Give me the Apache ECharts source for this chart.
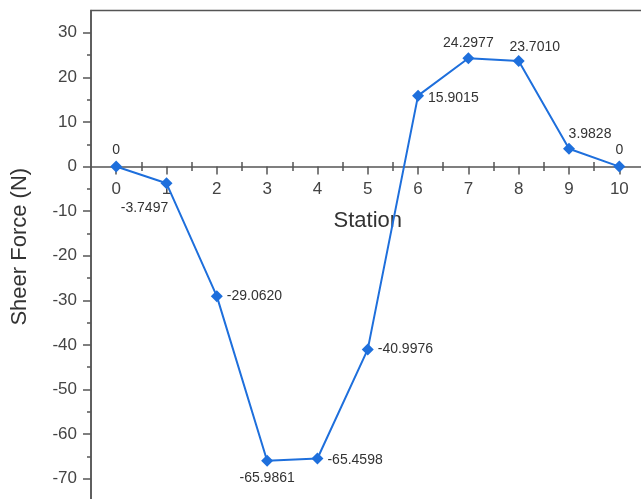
<!DOCTYPE html>
<html>
<head>
<meta charset="utf-8">
<script src="https://cdn.jsdelivr.net/npm/echarts@6/dist/echarts.min.js"></script>
<style>
html,body{margin:0;padding:0;background:#fff;}
#chart{width:641px;height:499px;}
</style>
</head>
<body>
<div id="chart"></div>
<script>
// ---- data ----
var stations = [0, 1, 2, 3, 4, 5, 6, 7, 8, 9, 10];
var shearForce = [0, -3.7497, -29.0620, -65.9861, -65.4598, -40.9976, 15.9015, 24.2977, 23.7010, 3.9828, 0];
var xTickLabels = [0, 1, 2, 3, 4, 5, 6, 7, 8, 9, 10];
var xMinorTicks = [0.5, 1.5, 2.5, 3.5, 4.5, 5.5, 6.5, 7.5, 8.5, 9.5];
var yTickLabels = [-70, -60, -50, -40, -30, -20, -10, 0, 10, 20, 30];
var yMinorTicks = [-65, -55, -45, -35, -25, -15, -5, 5, 15, 25];
var yMin = -75, yMax = 35;

// label placement per point (style only)
var labelPlace = [
  {position: 'top', offset: [0, 2]},
  {position: 'bottom', offset: [-22, 7]},
  {position: 'right', offset: [-1, 0]},
  {position: 'bottom', offset: [0, -1]},
  {position: 'right', offset: [-1, 2]},
  {position: 'right', offset: [-1, 0]},
  {position: 'right', offset: [-1, 2]},
  {position: 'top', offset: [0, 3]},
  {position: 'top', offset: [16, 4]},
  {position: 'top', offset: [21, 3]},
  {position: 'top', offset: [0, 2]}
];

var FONT = "'Liberation Sans', Arial, sans-serif";
var AXIS_COLOR = '#555';
var TEXT_COLOR = '#444';
var LINE_COLOR = '#1e6fdc';

function fmt(v) { return v === 0 ? '0' : v.toFixed(4); }

var seriesData = stations.map(function (s, i) {
  return {
    value: [s, shearForce[i]],
    label: {position: labelPlace[i].position, offset: labelPlace[i].offset}
  };
});

function xAxisBase(extra) {
  var a = {
    type: 'value', min: -0.5, max: 10.5,
    splitLine: {show: false},
    axisLine: {show: false, onZero: true, onZeroAxisIndex: 0, lineStyle: {color: AXIS_COLOR, width: 1.5}},
    axisLabel: {show: false},
    axisTick: {show: true, lineStyle: {color: AXIS_COLOR, width: 1.5}}
  };
  for (var k in extra) {
    if (typeof extra[k] === 'object' && !Array.isArray(extra[k]) && a[k]) {
      for (var j in extra[k]) a[k][j] = extra[k][j];
    } else a[k] = extra[k];
  }
  return a;
}

var option = {
  animation: false,
  backgroundColor: '#fff',
  grid: {
    left: 91, top: 10.5, right: -3.5, bottom: -2,
    outerBoundsMode: 'none', containLabel: false,
    show: true, borderColor: AXIS_COLOR, borderWidth: 1.5, backgroundColor: 'transparent'
  },
  xAxis: [
    xAxisBase({
      position: 'bottom', offset: 0,
      name: 'Station', nameLocation: 'middle', nameGap: 43,
      nameTextStyle: {fontFamily: FONT, fontSize: 22, color: '#333'},
      axisLine: {show: true, onZero: false},
      axisLabel: {show: true, customValues: xTickLabels, fontFamily: FONT, fontSize: 17, color: TEXT_COLOR, margin: 14},
      axisTick: {customValues: xTickLabels, length: 8, inside: false}
    }),
    xAxisBase({axisTick: {customValues: xTickLabels, length: 8, inside: true}}),
    xAxisBase({axisTick: {customValues: xMinorTicks, length: 4.5, inside: false}}),
    xAxisBase({axisTick: {customValues: xMinorTicks, length: 4.5, inside: true}})
  ],
  yAxis: [
    {
      type: 'value', min: yMin, max: yMax, position: 'left',
      name: 'Sheer Force (N)', nameLocation: 'middle', nameGap: 60,
      nameTextStyle: {fontFamily: FONT, fontSize: 22, color: '#333', padding: [0, 0, 0, 18]},
      splitLine: {show: false},
      axisLine: {show: true, onZero: false, lineStyle: {color: AXIS_COLOR, width: 1.5}},
      axisTick: {show: true, customValues: yTickLabels, length: 8, inside: false, lineStyle: {color: AXIS_COLOR, width: 1.5}},
      axisLabel: {show: true, customValues: yTickLabels, fontFamily: FONT, fontSize: 17, color: TEXT_COLOR, margin: 14}
    },
    {
      type: 'value', min: yMin, max: yMax, position: 'left',
      splitLine: {show: false},
      axisLine: {show: false, onZero: false},
      axisTick: {show: true, customValues: yMinorTicks, length: 4, inside: false, lineStyle: {color: AXIS_COLOR, width: 1.5}},
      axisLabel: {show: false}
    }
  ],
  series: [{
    type: 'line',
    xAxisIndex: 0, yAxisIndex: 0,
    data: seriesData,
    symbol: 'diamond',
    symbolSize: 12,
    itemStyle: {color: LINE_COLOR},
    lineStyle: {color: LINE_COLOR, width: 2},
    label: {
      show: true, fontFamily: FONT, fontSize: 14, color: '#333', distance: 5,
      formatter: function (p) { return fmt(p.value[1]); }
    }
  }]
};

var chart = echarts.init(document.getElementById('chart'), null, {renderer: 'canvas'});
chart.setOption(option);
// place the labelled x axis on the y = 0 line, using the y axis scale
var zeroPx = chart.convertToPixel({yAxisIndex: 0}, 0);
var bottomPx = chart.convertToPixel({yAxisIndex: 0}, yMin);
chart.setOption({xAxis: [{offset: zeroPx - bottomPx}]});
</script>
</body>
</html>
